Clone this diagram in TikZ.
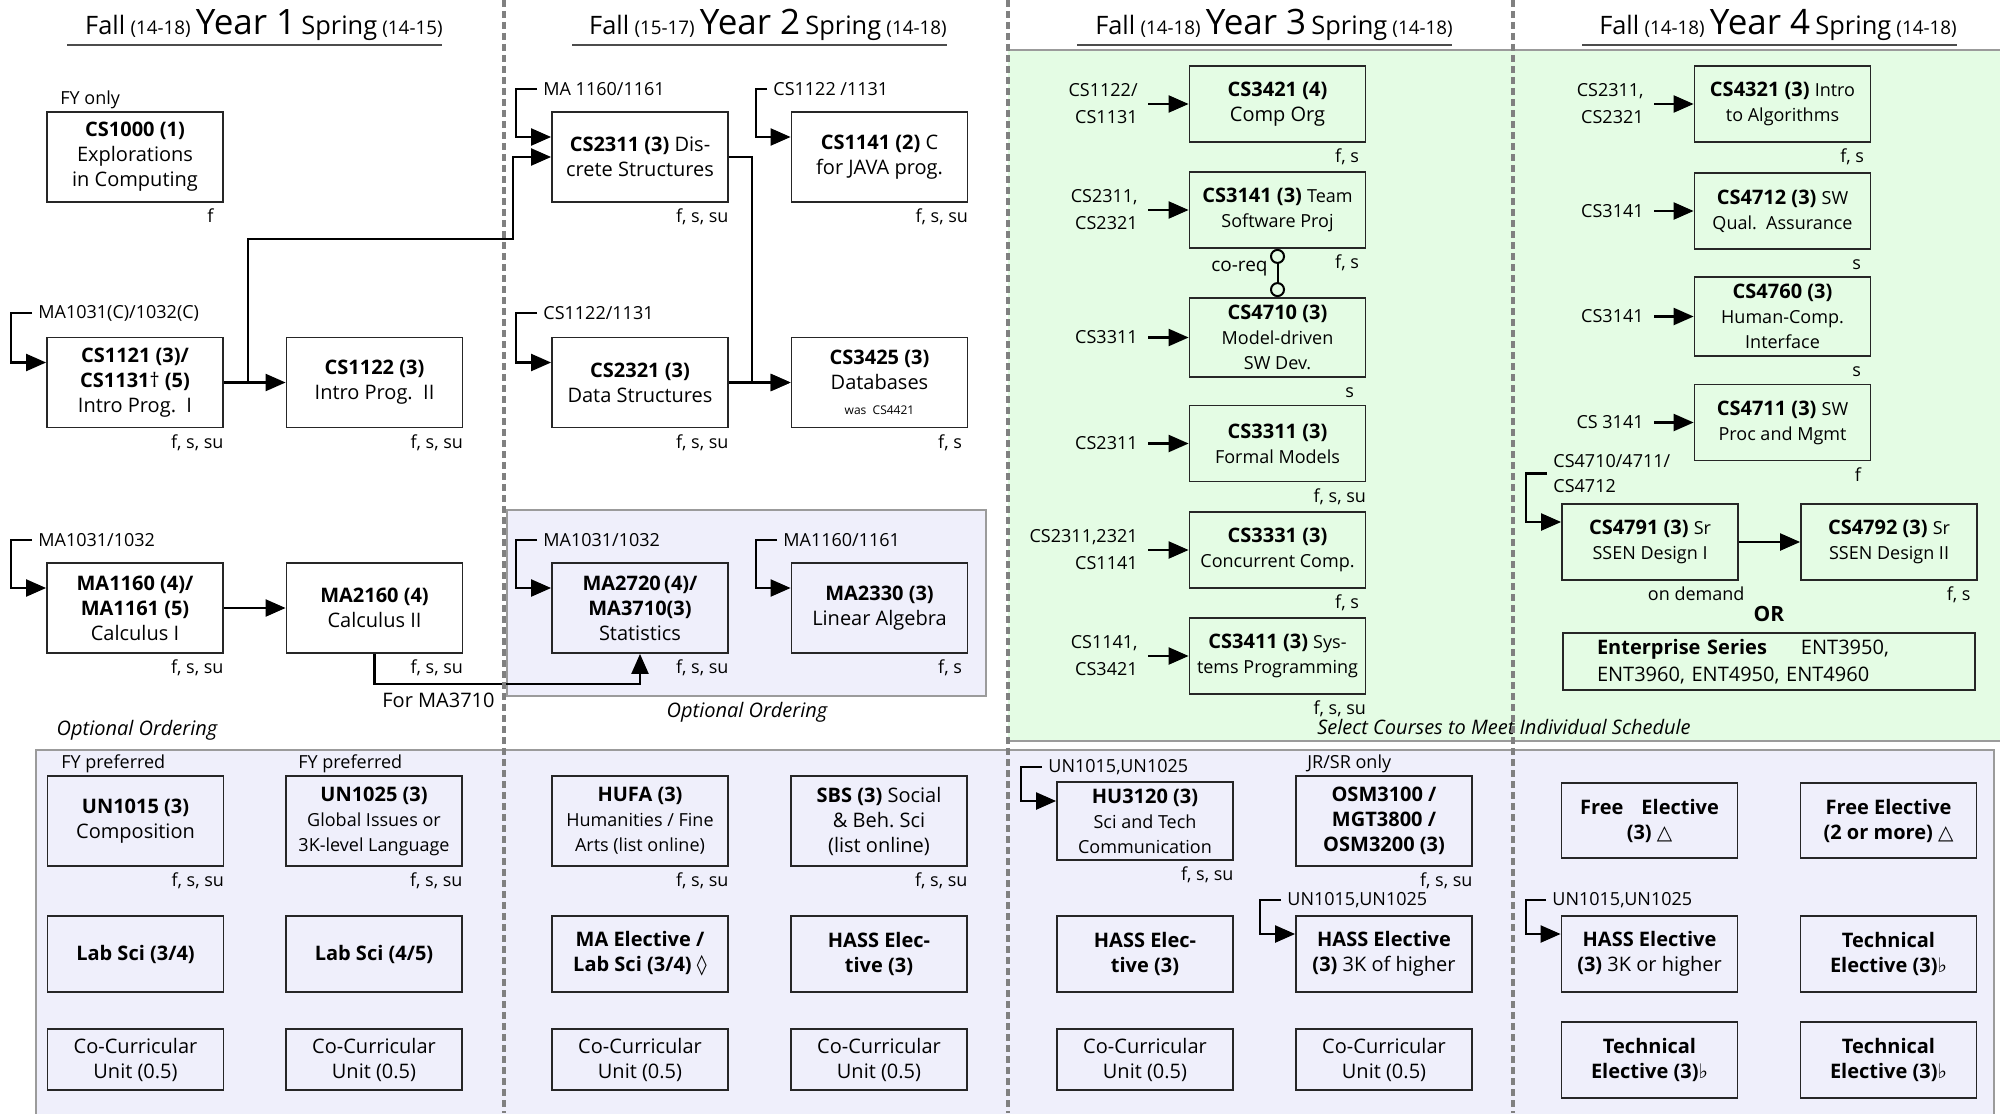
\documentclass[tikz,border=0pt]{standalone}
\usepackage{fontspec}
\setmainfont{Open Sans}
\newfontfamily\symf{DejaVu Sans}
\usetikzlibrary{arrows.meta,calc}
\definecolor{grn}{RGB}{228,252,228}
\definecolor{lav}{RGB}{239,239,251}
\definecolor{divgray}{RGB}{128,128,128}
\definecolor{bgray}{RGB}{155,155,155}
\newcommand\myfa{\fontsize{10}{12.5}\selectfont}
\newcommand\myfb{\fontsize{9}{12.5}\selectfont}
\newcommand\myfl{\fontsize{9}{13}\selectfont}
\newcommand\myfpre{\fontsize{9}{13.5}\selectfont}
\newcommand\yearhead[3]{{\fontsize{12.7}{14}\selectfont Fall} {\fontsize{9.4}{11}\selectfont (#1)} {\fontsize{17.5}{19}\selectfont Year #2} {\fontsize{12.7}{14}\selectfont Spring} {\fontsize{9.4}{11}\selectfont (#3)}}
\newcommand\prbrk[2]{\path ([xshift=-17.5pt]#2.west) coordinate (tmpA);
  \draw[arr] ([xshift=-3pt]#1.west) -- (tmpA |- #1.west) |- ([yshift=10pt]#2.west);}
\tikzset{
  box/.style={draw=black!85, line width=0.9pt, align=center, inner sep=1pt,
    minimum width=88pt, minimum height=45pt, font=\myfa},
  boxs/.style={box, minimum height=38pt},
  sem/.style={font=\myfl, anchor=base east, inner sep=0pt},
  pre/.style={font=\myfpre, inner sep=0pt},
  arr/.style={line width=1.1pt, -{Triangle[length=10pt,width=8.5pt]}},
  divider/.style={draw=divgray, line width=2pt, dash pattern=on 3.5pt off 2pt},
  hline/.style={draw=black!70, line width=0.6pt},
}
\begin{document}
\begin{tikzpicture}[x=0.5pt,y=-0.5pt]
\useasboundingbox (0,0) rectangle (2000,1113);
\fill[white] (0,0) rectangle (2000,1113);
% backgrounds
\fill[grn] (1007.5,50) rectangle (2000,741);
\draw[bgray, line width=0.7pt] (1007.5,50) -- (2000,50);
\draw[bgray, line width=0.7pt] (1007.5,741) -- (2000,741);
\filldraw[fill=lav, draw=bgray, line width=0.7pt] (507,510) rectangle (986,696);
\filldraw[fill=lav, draw=bgray, line width=0.7pt] (36,750) rectangle (1994,1130);

% headers
\node[anchor=base east, inner sep=0pt] (h1) at (443,35) {\yearhead{14-18}{1}{14-15}};
\node[anchor=base east, inner sep=0pt] (h2) at (947,35) {\yearhead{15-17}{2}{14-18}};
\node[anchor=base east, inner sep=0pt] (h3) at (1453,35) {\yearhead{14-18}{3}{14-18}};
\node[anchor=base east, inner sep=0pt] (h4) at (1957,35) {\yearhead{14-18}{4}{14-18}};
\draw[hline] (67,45) -- (442,45);
\draw[hline] (572,45) -- (947,45);
\draw[hline] (1077,45) -- (1452,45);
\draw[hline] (1582,45) -- (1957,45);

% ---------- Year 1 ----------
\node[box] (cs1000) at (135,157) {\textbf{CS1000 (1)}\\Explorations\\in Computing};
\node[pre, anchor=west] (fyonly) at (60,100) {FY only};
\node[sem] (s1000) at ([xshift=-5pt,yshift=-10pt]cs1000.south east) {f};

\node[box] (cs1121) at (135,382.5) {\textbf{CS1121 (3)/}\\\textbf{CS1131}\textnormal{†}\textbf{ (5)}\\Intro Prog.\ \ I};
\node[box] (cs1122) at (374.5,382.5) {\textbf{CS1122 (3)}\\Intro Prog.\ \ II};
\node[pre, anchor=west] (p1121) at (38,313) {MA1031(C)/1032(C)};
\prbrk{p1121}{cs1121}
\node[sem] (s1121) at ([yshift=-10pt]cs1121.south east) {f, s, su};
\node[sem] (s1122) at ([yshift=-10pt]cs1122.south east) {f, s, su};

\node[box] (ma1160) at (135,608) {\textbf{MA1160 (4)/}\\\textbf{MA1161 (5)}\\Calculus I};
\node[box] (ma2160) at (374.5,608) {\textbf{MA2160 (4)}\\Calculus II};
\node[pre, anchor=west] (p1160) at (38,540) {MA1031/1032};
\prbrk{p1160}{ma1160}
\node[sem] (s1160) at ([yshift=-10pt]ma1160.south east) {f, s, su};
\node[sem] (s2160) at ([yshift=-10pt]ma2160.south east) {f, s, su};
\node[font=\myfa, anchor=east, inner sep=0pt] (forma) at (495,700) {For MA3710};
\node[font=\myfa\itshape, inner sep=0pt] (opt1) at (137,730) {Optional Ordering};

% ---------- Year 2 ----------
\node[box] (cs2311) at (640,157) {\textbf{CS2311 (3)} Dis-\\crete Structures};
\node[box] (cs1141) at (879.5,157) {\textbf{CS1141 (2)} C\\for JAVA prog.};
\node[pre, anchor=west] (p2311) at (543,89) {MA 1160/1161};
\node[pre, anchor=west] (p1141) at (773,89) {CS1122 /1131};
\prbrk{p2311}{cs2311}
\prbrk{p1141}{cs1141}
\node[sem] (s2311) at ([yshift=-10pt]cs2311.south east) {f, s, su};
\node[sem] (s1141) at ([yshift=-10pt]cs1141.south east) {f, s, su};

\node[box] (cs2321) at (640,382.5) {\textbf{CS2321 (3)}\\Data Structures};
\node[box] (cs3425) at (879.5,382.5) {\textbf{CS3425 (3)}\\Databases\\{\fontsize{6}{12.5}\selectfont was\ \ CS4421}};
\node[pre, anchor=west] (p2321) at (543,313) {CS1122/1131};
\prbrk{p2321}{cs2321}
\node[sem] (s2321) at ([yshift=-10pt]cs2321.south east) {f, s, su};
\node[sem] (s3425) at ([xshift=-3pt,yshift=-10pt]cs3425.south east) {f, s};

\node[box] (ma2720) at (640,608) {\textbf{MA2720\,(4)/}\\\textbf{MA3710(3)}\\Statistics};
\node[box] (ma2330) at (879.5,608) {\textbf{MA2330 (3)}\\Linear Algebra};
\node[pre, anchor=west] (p2720) at (543,540) {MA1031/1032};
\node[pre, anchor=west] (p2330) at (783,540) {MA1160/1161};
\prbrk{p2720}{ma2720}
\prbrk{p2330}{ma2330}
\node[sem] (s2720) at ([yshift=-10pt]ma2720.south east) {f, s, su};
\node[sem] (s2330) at ([xshift=-3pt,yshift=-10pt]ma2330.south east) {f, s};
\node[font=\myfa\itshape, inner sep=0pt] (opt2) at (747,712) {Optional Ordering};

% connectors years 1-2
\draw[arr] (cs1121.east) -- (cs1122.west);
\coordinate (k1) at (513,239);
\draw[arr] ([xshift=12pt]cs1121.east) |- (k1) |- (cs2311.west);
\draw[arr] (cs2311.east) -- ++(11.5pt,0) |- (cs3425.west);
\draw[arr] (cs2321.east) -- (cs3425.west);
\draw[arr] (ma1160.east) -- (ma2160.west);
\coordinate (k2) at (500,684);
\draw[arr] (ma2160.south) |- (k2) -| (ma2720.south);

% ---------- Year 3 ----------
\node[boxs] (cs3421) at (1277.5,104) {\textbf{CS3421 (4)}\\Comp Org};
\node[boxs] (cs3141) at (1277.5,210) {\textbf{CS3141 (3)} {\myfb Team}\\{\myfb Software Proj}};
\node[boxs, minimum height=39.5pt] (cs4710) at (1277.5,337.5) {\textbf{CS4710 (3)}\\{\myfb Model-driven}\\{\myfb SW Dev.}};
\node[boxs] (cs3311) at (1277.5,443.5) {\textbf{CS3311 (3)}\\{\myfb Formal Models}};
\node[boxs] (cs3331) at (1277.5,550) {\textbf{CS3331 (3)}\\{\myfb Concurrent Comp.}};
\node[boxs] (cs3411) at (1277.5,656) {\textbf{CS3411 (3)} {\myfb Sys-}\\{\myfb tems Programming}};

\node[pre, anchor=east, align=right] (q3421) at (1138,104) {CS1122/\\CS1131};
\node[pre, anchor=east, align=right] (q3141) at (1138,210) {CS2311,\\CS2321};
\node[pre, anchor=east, align=right] (q4710) at (1138,337.5) {CS3311};
\node[pre, anchor=east, align=right] (q3311) at (1138,443.5) {CS2311};
\node[pre, anchor=east, align=right] (q3331) at (1138,550) {CS2311,2321\\CS1141};
\node[pre, anchor=east, align=right] (q3411) at (1138,656) {CS1141,\\CS3421};
\foreach \a/\b in {q3421/cs3421,q3141/cs3141,q4710/cs4710,q3311/cs3311,q3331/cs3331,q3411/cs3411}
  {\draw[arr] ([xshift=5pt]\a.east) -- (\b.west);}

\node[sem] (s3421) at ([xshift=-3.5pt,yshift=-10pt]cs3421.south east) {f, s};
\node[sem] (s3141) at ([xshift=-3.5pt,yshift=-10pt]cs3141.south east) {f, s};
\node[sem] (s4710) at ([xshift=-6pt,yshift=-10pt]cs4710.south east) {s};
\node[sem] (s3311) at ([yshift=-10pt]cs3311.south east) {f, s, su};
\node[sem] (s3331) at ([xshift=-3.5pt,yshift=-10pt]cs3331.south east) {f, s};
\node[sem] (s3411) at ([yshift=-10pt]cs3411.south east) {f, s, su};

\draw[line width=1pt, {Circle[open,length=7.5pt,width=7.5pt]}-{Circle[open,length=7.5pt,width=7.5pt]}] (cs3141.south) -- (cs4710.north);
\node[font=\fontsize{9.5}{11}\selectfont, anchor=east, inner sep=0pt] (coreq) at (1268,269) {co-req};

\node[font=\myfa\itshape, inner sep=0pt] (select) at (1504,727) {Select Courses to Meet Individual Schedule};

% ---------- Year 4 ----------
\node[boxs] (cs4321) at (1782.5,104) {\textbf{CS4321 (3)} {\myfb Intro}\\{\myfb to Algorithms}};
\node[boxs] (cs4712) at (1782.5,211) {\textbf{CS4712 (3)} {\myfb SW}\\{\myfb Qual.\ \ Assurance}};
\node[boxs, minimum height=39.5pt] (cs4760) at (1782.5,316.5) {\textbf{CS4760 (3)}\\{\myfb Human-Comp.}\\{\myfb Interface}};
\node[boxs] (cs4711) at (1782.5,422.5) {\textbf{CS4711 (3)} {\myfb SW}\\{\myfb Proc and Mgmt}};
\node[pre, anchor=east, align=right] (q4321) at (1644,104) {CS2311,\\CS2321};
\node[pre, anchor=east, align=right] (q4712) at (1644,211) {CS3141};
\node[pre, anchor=east, align=right] (q4760) at (1644,316.5) {CS3141};
\node[pre, anchor=east, align=right] (q4711) at (1644,422.5) {CS 3141};
\foreach \a/\b in {q4321/cs4321,q4712/cs4712,q4760/cs4760,q4711/cs4711}
  {\draw[arr] ([xshift=5pt]\a.east) -- (\b.west);}
\node[sem] (s4321) at ([xshift=-3.5pt,yshift=-10pt]cs4321.south east) {f, s};
\node[sem] (s4712) at ([xshift=-5pt,yshift=-10pt]cs4712.south east) {s};
\node[sem] (s4760) at ([xshift=-5pt,yshift=-10pt]cs4760.south east) {s};
\node[sem] (s4711) at ([xshift=-5pt,yshift=-10pt]cs4711.south east) {f};

\node[boxs] (cs4791) at (1650,542) {\textbf{CS4791 (3)} {\myfb Sr}\\{\myfb SSEN Design I}};
\node[boxs] (cs4792) at (1889,542) {\textbf{CS4792 (3)} {\myfb Sr}\\{\myfb SSEN Design II}};
\node[pre, anchor=west, align=left, font=\fontsize{9}{12.5}\selectfont] (p4791) at (1553,473.5) {CS4710/4711/\\CS4712};
\prbrk{p4791}{cs4791}
\draw[arr] (cs4791.east) -- (cs4792.west);
\node[sem] (s4791) at ([xshift=3pt,yshift=-10pt]cs4791.south east) {on demand};
\node[sem] (s4792) at ([xshift=-3.5pt,yshift=-10pt]cs4792.south east) {f, s};
\node[font=\fontsize{10.5}{12}\selectfont\bfseries, inner sep=0pt] (or) at (1769,614) {OR};
\node[draw=black!85, line width=0.9pt, align=left, font=\fontsize{10}{13.5}\selectfont,
  text width=172pt, inner xsep=17pt, inner ysep=1pt, minimum height=28.5pt] (ent) at (1769,661.5)
  {\textbf{Enterprise Series}\hspace{17pt}ENT3950,\\ENT3960, ENT4950, ENT4960};

% ---------- bottom: Year 1 ----------
\node[pre, anchor=west] (fy1) at (61,764) {FY preferred};
\node[pre, anchor=west] (fy2) at (298,764) {FY preferred};
\node[box] (un1015) at (135.5,821) {\textbf{UN1015 (3)}\\Composition};
\node[box] (un1025) at (374,821) {\textbf{UN1025 (3)}\\{\myfb Global Issues or}\\{\myfb 3K-level Language}};
\node[sem] (su1015) at ([yshift=-10pt]un1015.south east) {f, s, su};
\node[sem] (su1025) at ([yshift=-10pt]un1025.south east) {f, s, su};
\node[boxs] (lab1) at (135.5,954) {\textbf{Lab Sci (3/4)}};
\node[boxs] (lab2) at (374,954) {\textbf{Lab Sci (4/5)}};
\node[box, minimum height=30.5pt] (cc1) at (135.5,1059.5) {Co-Curricular\\Unit (0.5)};
\node[box, minimum height=30.5pt] (cc2) at (374,1059.5) {Co-Curricular\\Unit (0.5)};

% ---------- bottom: Year 2 ----------
\node[box] (hufa) at (640,821) {\textbf{HUFA (3)}\\{\myfb Humanities / Fine}\\{\myfb Arts (list online)}};
\node[box] (sbs) at (879,821) {\textbf{SBS (3)} Social\\\& Beh.\ Sci\\(list online)};
\node[sem] (shufa) at ([yshift=-10pt]hufa.south east) {f, s, su};
\node[sem] (ssbs) at ([yshift=-10pt]sbs.south east) {f, s, su};
\node[boxs] (maelec) at (640,954) {\textbf{MA Elective /}\\\textbf{Lab Sci (3/4)} {\symf ◊}};
\node[boxs] (hass2) at (879,954) {\textbf{HASS Elec-}\\\textbf{tive (3)}};
\node[box, minimum height=30.5pt] (cc3) at (640,1059.5) {Co-Curricular\\Unit (0.5)};
\node[box, minimum height=30.5pt] (cc4) at (879,1059.5) {Co-Curricular\\Unit (0.5)};

% ---------- bottom: Year 3 ----------
\node[box, minimum height=39pt] (hu3120) at (1145,821) {\textbf{HU3120 (3)}\\{\myfb Sci and Tech}\\{\myfb Communication}};
\node[pre, anchor=west] (phu) at (1048,767) {UN1015,UN1025};
\prbrk{phu}{hu3120}
\node[pre, anchor=west] (jrsr) at (1307,764) {JR/SR only};
\node[box] (osm) at (1384,821) {\textbf{OSM3100 /}\\\textbf{MGT3800 /}\\\textbf{OSM3200 (3)}};
\node[sem] (shu) at ([yshift=-10pt]hu3120.south east) {f, s, su};
\node[sem] (sosm) at ([yshift=-10pt]osm.south east) {f, s, su};
\node[boxs] (hass3a) at (1145,954) {\textbf{HASS Elec-}\\\textbf{tive (3)}};
\node[boxs] (hass3b) at (1384,954) {\textbf{HASS Elective}\\\textbf{(3)} 3K of higher};
\node[pre, anchor=west] (ph3) at (1287,900) {UN1015,UN1025};
\prbrk{ph3}{hass3b}
\node[box, minimum height=30.5pt] (cc5) at (1145,1059.5) {Co-Curricular\\Unit (0.5)};
\node[box, minimum height=30.5pt] (cc6) at (1384,1059.5) {Co-Curricular\\Unit (0.5)};

% ---------- bottom: Year 4 ----------
\node[box, minimum height=37.5pt] (free1) at (1649.5,820.5) {\textbf{Free\hspace{0.9em}Elective}\\\textbf{(3)} {\symf △}};
\node[box, minimum height=37.5pt] (free2) at (1888.5,820.5) {\textbf{Free Elective}\\\textbf{(2 or more)} {\symf △}};
\node[boxs] (hass4) at (1649.5,954) {\textbf{HASS Elective}\\\textbf{(3)} 3K or higher};
\node[pre, anchor=west] (ph4) at (1552,900) {UN1015,UN1025};
\prbrk{ph4}{hass4}
\node[boxs] (tech1) at (1888.5,954) {\textbf{Technical}\\\textbf{Elective (3)}{\symf ♭}};
\node[boxs] (tech2) at (1649.5,1060) {\textbf{Technical}\\\textbf{Elective (3)}{\symf ♭}};
\node[boxs] (tech3) at (1888.5,1060) {\textbf{Technical}\\\textbf{Elective (3)}{\symf ♭}};

% dividers
\draw[divider] (503.5,0) -- (503.5,1113);
\draw[divider] (1007.5,0) -- (1007.5,1113);
\draw[divider] (1512.5,0) -- (1512.5,1113);
\end{tikzpicture}
\end{document}
